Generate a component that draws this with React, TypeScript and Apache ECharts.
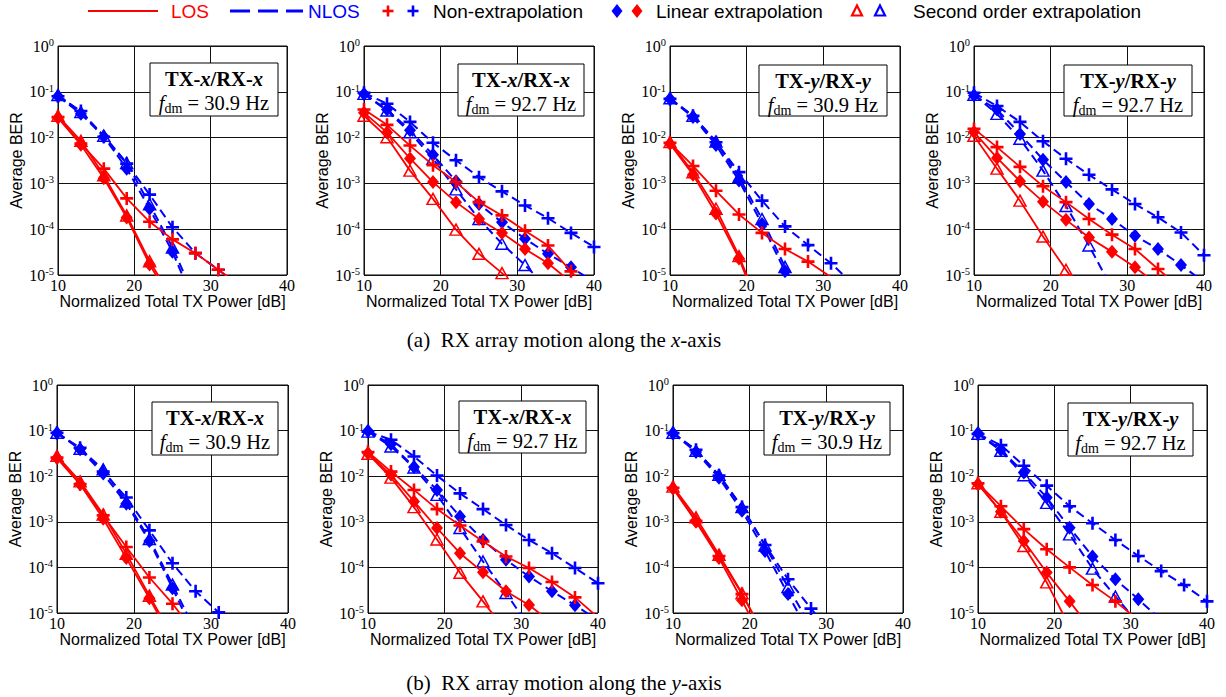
import React, { useEffect, useRef } from 'react';
import * as echarts from 'echarts';

const SERIF = "'Liberation Serif', 'Times New Roman', Times, serif";
const SANS = "'Liberation Sans', Arial, Helvetica, sans-serif";
const RED = '#ff0000';
const BLUE = '#0000ff';

// Normalized total TX power [dB] sample points (series use the first N entries)
const POWER_DB = [10, 13, 16, 19, 22, 25, 28, 31, 34, 37, 40];
const X_MIN = 10;
const X_MAX = 40;
const X_INTERVAL = 10;
const BER_MIN = 1e-5;
const BER_MAX = 1;

// (a) RX array motion along the x-axis — TX-x/RX-x, fdm = 30.9 Hz
const a1LosNon = [0.028, 0.0074, 0.0021, 4.7e-4, 1.45e-4, 6e-5, 3e-5, 1.3e-5, 5.5e-6];
const a1LosLin = [0.027, 0.007, 0.0013, 1.8e-4, 1.7e-5, 2.5e-6];
const a1LosSec = [0.03, 0.0085, 0.0015, 2e-4, 2e-5, 3e-6];
const a1NlosNon = [0.08, 0.038, 0.0104, 2.7e-3, 5.7e-4, 1.1e-4, 3e-5, 1.3e-5, 5.5e-6];
const a1NlosLin = [0.08, 0.033, 0.0105, 2.1e-3, 2.8e-4, 3.2e-5, 2.1e-6];
const a1NlosSec = [0.085, 0.036, 0.011, 2.8e-3, 3.5e-4, 4e-5, 3e-6];

// TX-x/RX-x, fdm = 92.7 Hz
const a2LosNon = [0.041, 0.019, 0.0067, 0.0025, 1.07e-3, 3.9e-4, 2e-4, 9.3e-5, 4.4e-5, 1.2e-5, 3.5e-6];
const a2LosLin = [0.035, 0.013, 0.0035, 1.07e-3, 3.9e-4, 1.67e-4, 8.3e-5, 3.7e-5, 1.8e-5, 7e-6];
const a2LosSec = [0.03, 0.0102, 0.0019, 4.6e-4, 9.8e-5, 2.9e-5, 1.1e-5, 4e-6];
const a2NlosNon = [0.095, 0.055, 0.022, 0.0077, 3.2e-3, 1.37e-3, 6.7e-4, 3.3e-4, 1.74e-4, 8.3e-5, 4.1e-5];
const a2NlosLin = [0.09, 0.041, 0.0144, 4.2e-3, 1.12e-3, 3.55e-4, 1.41e-4, 6.2e-5, 2.9e-5, 1.48e-5, 7e-6];
const a2NlosSec = [0.09, 0.039, 0.013, 3.45e-3, 7.4e-4, 1.67e-4, 4.8e-5, 1.65e-5, 5e-6];

// TX-y/RX-y, fdm = 30.9 Hz
const a3LosNon = [0.0077, 2.4e-3, 6.9e-4, 2.1e-4, 8.3e-5, 3.7e-5, 1.96e-5, 9e-6];
const a3LosLin = [0.0073, 1.54e-3, 2.2e-4, 2.3e-5, 1.2e-6];
const a3LosSec = [0.008, 1.75e-3, 2.8e-4, 2.6e-5, 1.5e-6];
const a3NlosNon = [0.07, 0.03, 0.0079, 1.76e-3, 4.2e-4, 1.15e-4, 4.5e-5, 1.8e-5, 6e-6];
const a3NlosLin = [0.07, 0.028, 6.9e-3, 1.15e-3, 1.3e-4, 1.2e-5, 1e-6];
const a3NlosSec = [0.072, 0.03, 0.0082, 1.37e-3, 1.67e-4, 1.5e-5, 1.3e-6];

// TX-y/RX-y, fdm = 92.7 Hz
const a4LosNon = [0.0155, 6.2e-3, 2.3e-3, 8.7e-4, 3.9e-4, 1.67e-4, 7.6e-5, 3.7e-5, 1.35e-5, 5e-6];
const a4LosLin = [0.0132, 3.6e-3, 1.12e-3, 4e-4, 1.6e-4, 6.6e-5, 3.2e-5, 1.48e-5, 6e-6];
const a4LosSec = [0.011, 2.1e-3, 4.2e-4, 6.9e-5, 1.3e-5, 2.5e-6];
const a4NlosNon = [0.095, 0.049, 0.022, 8.3e-3, 3.45e-3, 1.54e-3, 7.4e-4, 3.55e-4, 1.82e-4, 8.5e-5, 2.7e-5];
const a4NlosLin = [0.083, 0.041, 0.012, 3.3e-3, 1.07e-3, 3.55e-4, 1.67e-4, 7.2e-5, 3.7e-5, 1.65e-5, 7e-6];
const a4NlosSec = [0.086, 0.033, 9.4e-3, 1.9e-3, 3.2e-4, 4.4e-5, 5e-6];

// (b) RX array motion along the y-axis — TX-x/RX-x, fdm = 30.9 Hz
const b1LosNon = [0.0256, 6.7e-3, 1.38e-3, 2.8e-4, 6e-5, 1.6e-5, 3.5e-6];
const b1LosLin = [0.025, 6.7e-3, 1.17e-3, 1.6e-4, 2.1e-5, 2.5e-6];
const b1LosSec = [0.028, 7.7e-3, 1.45e-3, 2e-4, 2.4e-5, 3e-6];
const b1NlosNon = [0.089, 0.042, 0.0126, 3.4e-3, 6.5e-4, 1.23e-4, 3e-5, 1.03e-5, 3.5e-6];
const b1NlosLin = [0.089, 0.039, 0.0114, 2.5e-3, 3.8e-4, 3.5e-5, 3e-6];
const b1NlosSec = [0.09, 0.04, 0.0141, 2.8e-3, 4.2e-4, 4.2e-5, 4e-6];

// TX-x/RX-x, fdm = 92.7 Hz
const b2LosNon = [0.034, 0.0126, 5e-3, 1.9e-3, 8.3e-4, 3.7e-4, 1.74e-4, 9.7e-5, 4.8e-5, 2.2e-5, 8e-6];
const b2LosLin = [0.032, 0.0107, 2.8e-3, 7.3e-4, 2.05e-4, 7.8e-5, 3e-5, 1.5e-5, 6e-6];
const b2LosSec = [0.031, 0.0093, 2.1e-3, 4.1e-4, 7.6e-5, 1.8e-5, 4e-6];
const b2NlosNon = [0.095, 0.063, 0.027, 0.0103, 4.2e-3, 1.9e-3, 8.5e-4, 4e-4, 2.05e-4, 9.7e-5, 4.5e-5];
const b2NlosLin = [0.098, 0.05, 0.016, 5e-3, 1.3e-3, 4e-4, 1.47e-4, 6.3e-5, 3e-5, 1.48e-5, 7e-6];
const b2NlosSec = [0.095, 0.045, 0.0155, 3.9e-3, 7.3e-4, 1.35e-4, 2.75e-5, 5e-6];

// TX-y/RX-y, fdm = 30.9 Hz
const b3LosNon = [5.6e-3, 1.05e-3, 1.78e-4, 2.6e-5, 3e-6];
const b3LosLin = [5.4e-3, 1.0e-3, 1.6e-4, 1.9e-5, 2e-6];
const b3LosSec = [5.9e-3, 1.25e-3, 1.9e-4, 2.7e-5, 3e-6];
const b3NlosNon = [0.088, 0.038, 0.0103, 2.1e-3, 3.1e-4, 5.5e-5, 1.25e-5, 3e-6];
const b3NlosLin = [0.088, 0.034, 9.2e-3, 1.74e-3, 2.3e-4, 2.6e-5, 3e-6];
const b3NlosSec = [0.09, 0.036, 0.0107, 2.1e-3, 3e-4, 3.7e-5, 5e-6];

// TX-y/RX-y, fdm = 92.7 Hz
const b4LosNon = [7e-3, 2.2e-3, 6.9e-4, 2.5e-4, 1e-4, 4.1e-5, 1.8e-5, 7e-6];
const b4LosLin = [6.7e-3, 1.66e-3, 3.8e-4, 7.7e-5, 1.8e-5, 4e-6];
const b4LosSec = [7e-3, 1.66e-3, 2.96e-4, 4.7e-5, 5e-6];
const b4NlosNon = [0.084, 0.048, 0.017, 6.2e-3, 2.2e-3, 9.3e-4, 4e-4, 1.78e-4, 8.3e-5, 4.1e-5, 1.8e-5];
const b4NlosLin = [0.088, 0.038, 0.012, 3.4e-3, 7.4e-4, 1.74e-4, 5.5e-5, 2e-5, 7e-6];
const b4NlosSec = [0.085, 0.036, 0.0105, 2.6e-3, 5.3e-4, 9.4e-5, 2.3e-5, 6e-6];

const PANEL_AXIS = ['x', 'x', 'y', 'y', 'x', 'x', 'y', 'y'];
const PANEL_FDM = ['30.9', '92.7', '30.9', '92.7', '30.9', '92.7', '30.9', '92.7'];
const PANEL_SERIES = [
  [a1LosNon, a1LosLin, a1LosSec, a1NlosNon, a1NlosLin, a1NlosSec],
  [a2LosNon, a2LosLin, a2LosSec, a2NlosNon, a2NlosLin, a2NlosSec],
  [a3LosNon, a3LosLin, a3LosSec, a3NlosNon, a3NlosLin, a3NlosSec],
  [a4LosNon, a4LosLin, a4LosSec, a4NlosNon, a4NlosLin, a4NlosSec],
  [b1LosNon, b1LosLin, b1LosSec, b1NlosNon, b1NlosLin, b1NlosSec],
  [b2LosNon, b2LosLin, b2LosSec, b2NlosNon, b2NlosLin, b2NlosSec],
  [b3LosNon, b3LosLin, b3LosSec, b3NlosNon, b3NlosLin, b3NlosSec],
  [b4LosNon, b4LosLin, b4LosSec, b4NlosNon, b4NlosLin, b4NlosSec],
];
const CAPTIONS = ['x', 'y'];

// layout (pixels)
const GRID_RECTS = [
  [58, 46, 229, 229],
  [364, 46, 230, 229],
  [670, 46, 230, 229],
  [974, 46, 230, 229],
  [57, 385, 231, 228],
  [368, 385, 230, 228],
  [673, 385, 230, 228],
  [978, 385, 229, 228],
];
const BOX_RECTS = [
  [150, 63, 128, 53],
  [458, 64, 126, 52],
  [759, 65, 128, 51],
  [1064, 65, 128, 51],
  [152, 402, 126, 53],
  [459, 401, 127, 52],
  [764, 402, 126, 53],
  [1068, 403, 125, 53],
];

const PLUS_PATH = 'path://M4,0H6V4H10V6H6V10H4V6H0V4H4Z';

function buildOption() {
  const grid: any[] = [];
  const xAxis: any[] = [];
  const yAxis: any[] = [];
  const series: any[] = [];
  const graphic: any[] = [];

  GRID_RECTS.forEach((r, gi) => {
    grid.push({
      left: r[0], top: r[1], width: r[2], height: r[3],
      show: true, borderColor: '#000', borderWidth: 1, backgroundColor: 'transparent',
    });
    xAxis.push({
      type: 'value', gridIndex: gi, min: X_MIN, max: X_MAX, interval: X_INTERVAL,
      name: 'Normalized Total TX Power [dB]', nameLocation: 'middle', nameGap: 17,
      nameTextStyle: { fontFamily: SANS, fontSize: 16, color: '#000' },
      axisLine: { show: false }, axisTick: { show: false },
      axisLabel: { fontFamily: SERIF, fontSize: 16, color: '#000', margin: 2 },
      splitLine: { show: true, lineStyle: { color: '#111', width: 1 } },
    });
    yAxis.push({
      type: 'log', logBase: 10, gridIndex: gi, min: BER_MIN, max: BER_MAX, splitNumber: 5,
      name: 'Average BER', nameLocation: 'middle', nameGap: 34, nameRotate: 90,
      nameTextStyle: { fontFamily: SANS, fontSize: 16, color: '#000' },
      axisLine: { show: false }, axisTick: { show: false }, minorTick: { show: false },
      axisLabel: {
        margin: 4,
        formatter: (v: number) => `{b|10}{s|${Math.round(Math.log10(v))}}`,
        rich: {
          b: { fontFamily: SERIF, fontSize: 16, color: '#000', lineHeight: 18 },
          s: { fontFamily: SERIF, fontSize: 10.5, color: '#000', lineHeight: 10, verticalAlign: 'top' },
        },
      },
      splitLine: { show: true, lineStyle: { color: '#111', width: 1 } },
    });

    const sets = PANEL_SERIES[gi];
    const kinds = ['non', 'lin', 'sec'];
    // NLOS first, LOS drawn on top
    [3, 4, 5, 0, 1, 2].forEach((si) => {
      const los = si < 3;
      const kind = kinds[si % 3];
      const color = los ? RED : BLUE;
      const values = sets[si];
      const s: any = {
        type: 'line', xAxisIndex: gi, yAxisIndex: gi, silent: true, clip: true,
        data: values.map((v, i) => [POWER_DB[i], v]),
        lineStyle: los ? { color, width: 1.8, type: 'solid' } : { color, width: 2, type: [9, 5] },
        z: los ? 3 : 2,
      };
      if (kind === 'non') {
        s.symbol = PLUS_PATH; s.symbolSize = 13; s.itemStyle = { color };
      } else if (kind === 'lin') {
        s.symbol = 'diamond'; s.symbolSize = [12, 14]; s.itemStyle = { color };
      } else {
        s.symbol = 'triangle'; s.symbolSize = [12, 11];
        s.itemStyle = { color: 'rgba(255,255,255,0)', borderColor: color, borderWidth: 1.5 };
      }
      series.push(s);
    });

    const b = BOX_RECTS[gi];
    const ax = PANEL_AXIS[gi];
    graphic.push({
      type: 'rect', z: 50, shape: { x: b[0], y: b[1], width: b[2], height: b[3] },
      style: { fill: '#fff', stroke: '#000', lineWidth: 1 },
    });
    graphic.push({
      type: 'text', z: 51, x: b[0] + b[2] / 2, y: b[1] + 16,
      style: {
        text: `{b|TX-}{bi|${ax}}{b|/RX-}{bi|${ax}}`,
        align: 'center', verticalAlign: 'middle',
        rich: {
          b: { fontFamily: SERIF, fontSize: 20.5, fontWeight: 'bold', fill: '#000' },
          bi: { fontFamily: SERIF, fontSize: 20.5, fontWeight: 'bold', fontStyle: 'italic', fill: '#000' },
        },
      },
    });
    graphic.push({
      type: 'text', z: 51, x: b[0] + b[2] / 2, y: b[1] + 40,
      style: {
        text: `{i|f}{sub|dm}{n| = ${PANEL_FDM[gi]} Hz}`,
        align: 'center', verticalAlign: 'middle',
        rich: {
          i: { fontFamily: SERIF, fontSize: 20.5, fontStyle: 'italic', fill: '#000', lineHeight: 24 },
          sub: { fontFamily: SERIF, fontSize: 14, fill: '#000', lineHeight: 9, verticalAlign: 'bottom' },
          n: { fontFamily: SERIF, fontSize: 20.5, fill: '#000', lineHeight: 24 },
        },
      },
    });
  });

  // legend
  const LY = 11;
  const legendFont = { fontFamily: SANS, fontSize: 19 };
  graphic.push({ type: 'line', shape: { x1: 88, y1: LY, x2: 158, y2: LY }, style: { stroke: RED, lineWidth: 2 } });
  graphic.push({ type: 'text', x: 171, y: LY, style: { text: 'LOS', fill: RED, ...legendFont, verticalAlign: 'middle' } });
  graphic.push({ type: 'line', shape: { x1: 230, y1: LY, x2: 303, y2: LY }, style: { stroke: BLUE, lineWidth: 3, lineDash: [20, 8] } });
  graphic.push({ type: 'text', x: 308, y: LY, style: { text: 'NLOS', fill: BLUE, ...legendFont, verticalAlign: 'middle' } });
  [[388, RED], [413, BLUE]].forEach(([cx, c]: any) => {
    graphic.push({ type: 'rect', shape: { x: cx - 5.5, y: LY - 1.3, width: 11, height: 2.6 }, style: { fill: c } });
    graphic.push({ type: 'rect', shape: { x: cx - 1.3, y: LY - 5.5, width: 2.6, height: 11 }, style: { fill: c } });
  });
  graphic.push({ type: 'text', x: 433, y: LY, style: { text: 'Non-extrapolation', fill: '#000', ...legendFont, verticalAlign: 'middle' } });
  [[617, BLUE], [637, RED]].forEach(([cx, c]: any) => {
    graphic.push({ type: 'polygon', shape: { points: [[cx, LY - 7], [cx + 5.5, LY], [cx, LY + 7], [cx - 5.5, LY]] }, style: { fill: c } });
  });
  graphic.push({ type: 'text', x: 656, y: LY, style: { text: 'Linear extrapolation', fill: '#000', ...legendFont, verticalAlign: 'middle' } });
  [[857, RED], [880, BLUE]].forEach(([cx, c]: any) => {
    graphic.push({ type: 'polygon', shape: { points: [[cx, LY - 5.5], [cx + 5, LY + 4.5], [cx - 5, LY + 4.5]] }, style: { fill: 'none', stroke: c, lineWidth: 2.2 } });
  });
  graphic.push({ type: 'text', x: 913, y: LY, style: { text: 'Second order extrapolation', fill: '#000', ...legendFont, verticalAlign: 'middle' } });

  // captions
  [['(a)', 340], ['(b)', 683]].forEach(([lab, y]: any, i) => {
    graphic.push({
      type: 'text', x: 564, y,
      style: {
        text: `{n|${lab}  RX array motion along the }{i|${CAPTIONS[i]}}{n|-axis}`,
        align: 'center', verticalAlign: 'middle',
        rich: {
          n: { fontFamily: SERIF, fontSize: 21, fill: '#000' },
          i: { fontFamily: SERIF, fontSize: 21, fontStyle: 'italic', fill: '#000' },
        },
      },
    });
  });

  return { animation: false, backgroundColor: '#fff', grid, xAxis, yAxis, series, graphic };
}

export default function App() {
  const ref = useRef<HTMLDivElement>(null);
  useEffect(() => {
    if (!ref.current) return;
    const chart = echarts.init(ref.current, undefined, { renderer: 'svg' });
    chart.setOption(buildOption() as any);
    return () => chart.dispose();
  }, []);
  return (
    <div
      ref={ref}
      style={{ position: 'fixed', left: 0, top: 0, width: 1226, height: 697, background: '#fff' }}
    />
  );
}
